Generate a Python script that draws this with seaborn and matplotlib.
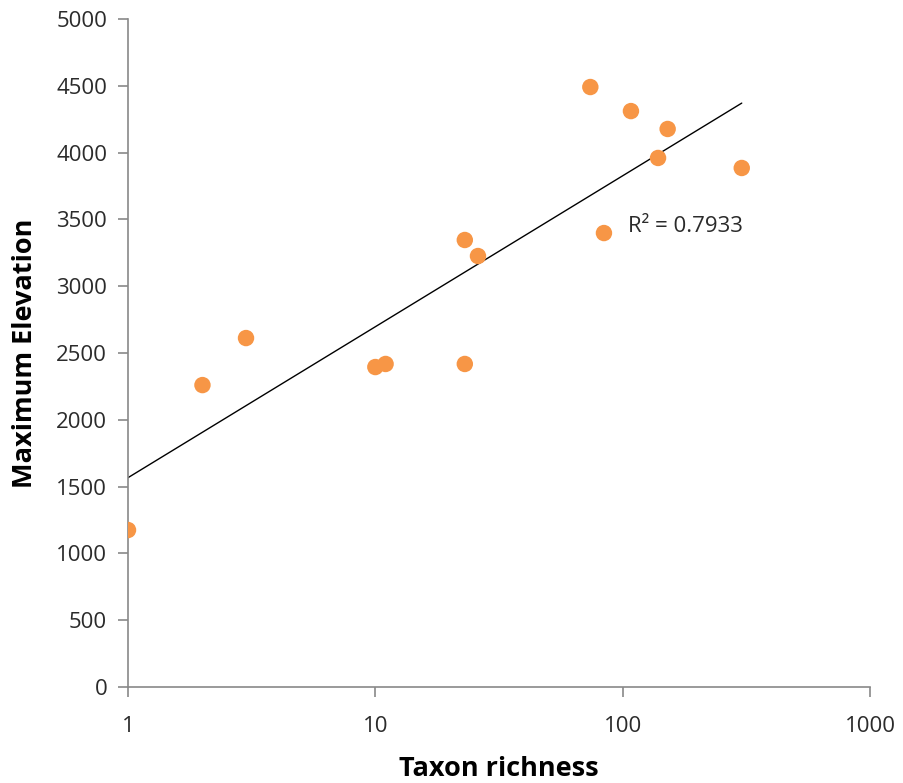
import numpy as np
import pandas as pd
import matplotlib
matplotlib.use("Agg")
import matplotlib.pyplot as plt
import seaborn as sns

# Taxon richness vs. maximum elevation
richness = [1, 2, 3, 10, 11, 23, 23, 26, 74, 84, 108, 139, 152, 303]
max_elevation = [1175, 2260, 2612, 2395, 2418, 2418, 3346, 3226, 4491, 3398, 4311, 3960, 4177, 3885]
r2_label = "R\u00b2 = 0.7933"
x_ticks = [1, 10, 100, 1000]
x_ticklabels = ["1", "10", "100", "1000"]
y_ticks = [0, 500, 1000, 1500, 2000, 2500, 3000, 3500, 4000, 4500, 5000]

df = pd.DataFrame({"richness": richness, "elevation": max_elevation})

sns.set_theme(style="white")
plt.rcParams["font.family"] = ["Open Sans", "DejaVu Sans"]

fig = plt.figure(figsize=(9.04, 7.83), dpi=100)
ax = fig.add_axes([0.1416, 0.1226, 0.8208, 0.8531])

sns.scatterplot(data=df, x="richness", y="elevation", ax=ax, s=140,
                color="#F79646", edgecolor="none", zorder=3, legend=False)

# Logarithmic trend line (least squares on ln x)
lx = np.log(df["richness"].to_numpy(dtype=float))
slope, intercept = np.polyfit(lx, df["elevation"], 1)
xs = np.geomspace(df["richness"].min(), df["richness"].max(), 200)
sns.lineplot(x=xs, y=slope * np.log(xs) + intercept, ax=ax, color="black",
             linewidth=1.0, zorder=2)

ax.set_xscale("log")
ax.set_xlim(1, 1000)
ax.set_ylim(0, 5000)
ax.set_xticks(x_ticks)
ax.set_xticklabels(x_ticklabels)
ax.xaxis.set_minor_locator(matplotlib.ticker.NullLocator())
ax.set_yticks(y_ticks)

for side in ("top", "right"):
    ax.spines[side].set_visible(False)
for side in ("left", "bottom"):
    ax.spines[side].set_color("#898989")
    ax.spines[side].set_linewidth(1.2)

ax.tick_params(axis="both", which="major", direction="out", length=7, width=1.2,
               color="#898989", labelsize=16, labelcolor="#2b2b2b", pad=8,
               left=True, bottom=True)
ax.tick_params(axis="x", pad=14)

ax.set_xlabel("Taxon richness", fontsize=19.5, fontweight="bold", color="black")
ax.xaxis.label.set_va("baseline")
ax.xaxis.set_label_coords(0.5, -0.133)

ax.set_ylabel("Maximum Elevation", fontsize=19.5, fontweight="bold", color="black")
ax.yaxis.label.set(va="center", ha="center", rotation_mode="default")
ax.yaxis.set_label_coords(-0.139, 0.5)

ax.text(105, 3450, r2_label, fontsize=16, color="#2b2b2b", va="center", ha="left")

fig.savefig("out.png", dpi=100, facecolor="white")
